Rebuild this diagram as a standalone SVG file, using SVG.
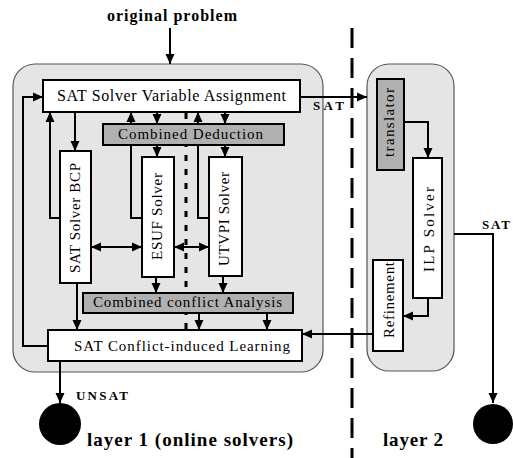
<svg xmlns="http://www.w3.org/2000/svg" width="513" height="458" viewBox="0 0 513 458">
<defs>
<marker id="ah" markerUnits="userSpaceOnUse" markerWidth="10" markerHeight="10" viewBox="0 0 10 10" refX="10" refY="5" orient="auto-start-reverse">
<path d="M0,0.5 L10,5 L0,9.5 z" fill="#000"/>
</marker>
</defs>
<style>
.layer{fill:#e5e5e5;stroke:#555;stroke-width:1.2}
.box{fill:#fff;stroke:#000;stroke-width:2}
.gbox{fill:#b0b0b0;stroke:#000;stroke-width:2}
.t{fill:#000}
.b{font-weight:bold;fill:#000}
.c{fill:none;stroke:#000;stroke-width:2}
.a{marker-end:url(#ah)}
.d{marker-start:url(#ah);marker-end:url(#ah)}
</style>
<g id="layer1"><rect class="layer" x="13" y="64" width="310" height="308" rx="22"/></g>
<g id="layer2"><rect class="layer" x="367" y="64" width="87" height="307" rx="22"/></g>
<g id="separators">
<line x1="352" y1="28" x2="352" y2="458" stroke="#000" stroke-width="3" stroke-dasharray="20 10"/>
<line x1="186" y1="113" x2="186" y2="330" stroke="#000" stroke-width="3" stroke-dasharray="6 8"/>
</g>
<g id="connectors">
<path class="c a" d="M170,28 V64"/>
<path class="c a" d="M300,97 H367"/>
<path class="c a" d="M48,346 H23 V97 H43"/>
<path class="c a" d="M60,218 H50 V112"/>
<path class="c a" d="M75,112 V151"/>
<path class="c a" d="M77,283 V330"/>
<path class="c a" d="M142,218 H131 V112"/>
<path class="c a" d="M157,112 V124"/>
<path class="c a" d="M157,145 V157"/>
<path class="c a" d="M209,218 H198 V112"/>
<path class="c a" d="M225,112 V124"/>
<path class="c a" d="M225,145 V157"/>
<path class="c d" d="M91,247 H142"/>
<path class="c d" d="M174,247 H209"/>
<path class="c a" d="M156,277 V293"/>
<path class="c a" d="M223,276 V293"/>
<path class="c a" d="M199,313 V330"/>
<path class="c a" d="M267,313 V330"/>
<path class="c a" d="M404,122 H428 V158"/>
<path class="c a" d="M428,298 V316 H403"/>
<path class="c a" d="M373,334 H302"/>
<path class="c a" d="M454,234 H493 V403"/>
<path class="c a" d="M60,361 V403"/>
</g>
<g font-family="'Liberation Serif', 'Times New Roman', serif">
<g id="n-original"><text class="b" x="107" y="21" font-size="16" textLength="130" lengthAdjust="spacing">original problem</text></g>
<g id="n-va"><rect class="box" x="43" y="80" width="257" height="32"/><text class="t" x="57" y="101" font-size="16" textLength="229" lengthAdjust="spacing">SAT Solver Variable Assignment</text></g>
<g id="n-cd"><rect class="gbox" x="103" y="124" width="181" height="21"/><text class="t" x="118" y="139" font-size="15" textLength="145" lengthAdjust="spacing">Combined Deduction</text></g>
<g id="n-bcp"><rect class="box" x="60" y="151" width="31" height="132"/><text class="t" font-size="15" transform="translate(80,273) rotate(-90)" textLength="110" lengthAdjust="spacing">SAT Solver BCP</text></g>
<g id="n-esuf"><rect class="box" x="142" y="157" width="32" height="120"/><text class="t" font-size="15" transform="translate(162,260) rotate(-90)" textLength="87" lengthAdjust="spacing">ESUF Solver</text></g>
<g id="n-utvpi"><rect class="box" x="209" y="157" width="33" height="119"/><text class="t" font-size="15" transform="translate(229,266) rotate(-90)" textLength="94" lengthAdjust="spacing">UTVPI Solver</text></g>
<g id="n-cca"><rect class="gbox" x="83" y="293" width="210" height="20"/><text class="t" x="93" y="307" font-size="15" textLength="189" lengthAdjust="spacing">Combined conflict Analysis</text></g>
<g id="n-learn"><rect class="box" x="48" y="330" width="254" height="31"/><text class="t" x="74" y="351" font-size="15" textLength="216" lengthAdjust="spacing">SAT Conflict-induced Learning</text></g>
<g id="n-trans"><rect class="gbox" x="377" y="79" width="27" height="91"/><text class="t" font-size="15" transform="translate(394,157) rotate(-90)" textLength="69" lengthAdjust="spacing">translator</text></g>
<g id="n-ilp"><rect class="box" x="413" y="158" width="29" height="140"/><text class="t" font-size="15" transform="translate(434,272) rotate(-90)" textLength="85" lengthAdjust="spacing">ILP Solver</text></g>
<g id="n-ref"><rect class="box" x="373" y="260" width="30" height="91"/><text class="t" font-size="15" transform="translate(394,338) rotate(-90)" textLength="76" lengthAdjust="spacing">Refinement</text></g>
<g id="labels">
<text class="b" x="313" y="110" font-size="13" textLength="31" lengthAdjust="spacing">SAT</text>
<text class="b" x="482" y="229" font-size="13" textLength="28" lengthAdjust="spacing">SAT</text>
<text class="b" x="76" y="400" font-size="13" textLength="52" lengthAdjust="spacing">UNSAT</text>
<text class="b" x="87" y="446" font-size="19" textLength="206" lengthAdjust="spacing">layer 1 (online solvers)</text>
<text class="b" x="383" y="446" font-size="19" textLength="60" lengthAdjust="spacing">layer 2</text>
</g>
</g>
<g id="n-unsat"><circle cx="60" cy="424" r="21" fill="#000"/></g>
<g id="n-sat"><circle cx="493" cy="424" r="20" fill="#000"/></g>
</svg>
